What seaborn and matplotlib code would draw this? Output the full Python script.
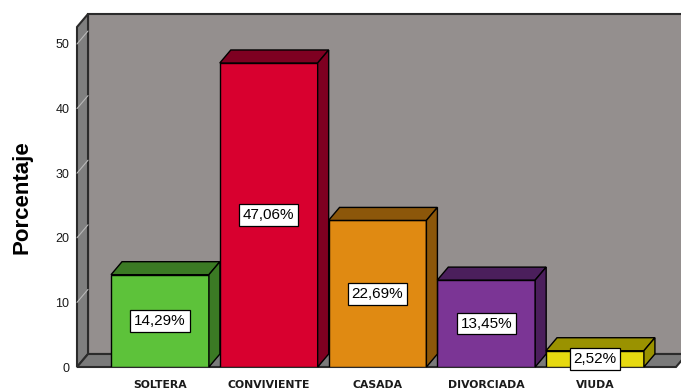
import matplotlib
matplotlib.use("Agg")
import matplotlib.pyplot as plt
import seaborn as sns
import pandas as pd
from matplotlib.patches import Polygon
from matplotlib.lines import Line2D

# Estado civil de las participantes (porcentaje)
categorias = ["SOLTERA", "CONVIVIENTE", "CASADA", "DIVORCIADA", "VIUDA"]
porcentajes = [14.29, 47.06, 22.69, 13.45, 2.52]
etiquetas = ["14,29%", "47,06%", "22,69%", "13,45%", "2,52%"]
marcas_y = [0, 10, 20, 30, 40, 50]

colores_frente = ["#5dc23a", "#d8002f", "#e08a12", "#7b3595", "#e6d910"]
colores_lado = ["#3b7a24", "#7e0021", "#8c570a", "#4b1f5c", "#9a9200"]

sns.set_theme(style="white")
plt.rcParams["font.family"] = ["Liberation Sans", "DejaVu Sans"]

W, H = 681, 389
fig = plt.figure(figsize=(W / 100, H / 100), dpi=100)
ax = fig.add_axes([77 / W, 22 / H, 599 / W, 340 / H])
ax.set_facecolor("none")

df = pd.DataFrame({"estado": categorias, "pct": porcentajes})
sns.barplot(data=df, x="estado", y="pct", hue="estado", order=categorias,
            hue_order=categorias, palette=colores_frente, saturation=1, width=0.9,
            edgecolor="black", linewidth=1.0, legend=False, ax=ax, zorder=3)
barras = sorted([p for p in ax.patches if hasattr(p, "get_x") and p.get_height() > 0],
                key=lambda p: p.get_x())

ax.set_xlim(-0.763, 4.745)
ax.set_ylim(0, 52.63)
x0, x1 = ax.get_xlim()
y1 = ax.get_ylim()[1]

# depth of the 3D box, 11 x 13 px, expressed in data units
p0 = ax.transData.transform((0, 0))
p1 = ax.transData.transform((1, 1))
dx = 11 / (p1[0] - p0[0])
dy = 13 / (p1[1] - p0[1])

borde = "#2b2b2b"
# back wall, left wall and floor
ax.add_patch(Polygon([(x0 + dx, dy), (x1 + dx, dy), (x1 + dx, y1 + dy), (x0 + dx, y1 + dy)],
                     closed=True, fc="#948f8e", ec=borde, lw=1.5, zorder=0, clip_on=False))
ax.add_patch(Polygon([(x0, 0), (x0, y1), (x0 + dx, y1 + dy), (x0 + dx, dy)],
                     closed=True, fc="#7f7f7f", ec=borde, lw=1.5, zorder=1, clip_on=False))
ax.add_patch(Polygon([(x0, 0), (x1, 0), (x1 + dx, dy), (x0 + dx, dy)],
                     closed=True, fc="#7a7a7a", ec=borde, lw=1.5, zorder=1, clip_on=False))
# grid marks on the left wall
for t in marcas_y[1:]:
    ax.add_line(Line2D([x0, x0 + dx], [t, t + dy], color="#b8b8b8", lw=0.8,
                       zorder=1.5, clip_on=False))

# top and side faces of each bar
for barra, lado, texto in zip(barras, colores_lado, etiquetas):
    bx, bw, bh = barra.get_x(), barra.get_width(), barra.get_height()
    ax.add_patch(Polygon([(bx, bh), (bx + bw, bh), (bx + bw + dx, bh + dy), (bx + dx, bh + dy)],
                         closed=True, fc=lado, ec="black", lw=1.0, zorder=3, clip_on=False))
    ax.add_patch(Polygon([(bx + bw, 0), (bx + bw, bh), (bx + bw + dx, bh + dy), (bx + bw + dx, dy)],
                         closed=True, fc=lado, ec="black", lw=1.0, zorder=3, clip_on=False))
    ax.text(bx + bw / 2, bh / 2, texto, ha="center", va="center", fontsize=11,
            color="black", zorder=6, clip_on=False,
            bbox=dict(boxstyle="square,pad=0.25", fc="white", ec="black", lw=0.9))

for s in ax.spines.values():
    s.set_visible(False)

ax.set_yticks(marcas_y)
ax.set_yticklabels([str(t) for t in marcas_y])
ax.tick_params(axis="y", length=0, pad=5.5, labelsize=9, labelcolor="#1a1a1a")
ax.tick_params(axis="x", length=0, pad=9, labelsize=7.8, labelcolor="#1a1a1a")
for lbl in ax.get_xticklabels():
    lbl.set_fontfamily("DejaVu Sans")
    lbl.set_fontweight("bold")

ax.set_xlabel("")
ax.set_ylabel("Porcentaje", fontsize=16, fontweight="bold", color="black")
ax.yaxis.set_label_coords((33 - 77) / 599, 0.5)

fig.savefig("out.png", dpi=100)
